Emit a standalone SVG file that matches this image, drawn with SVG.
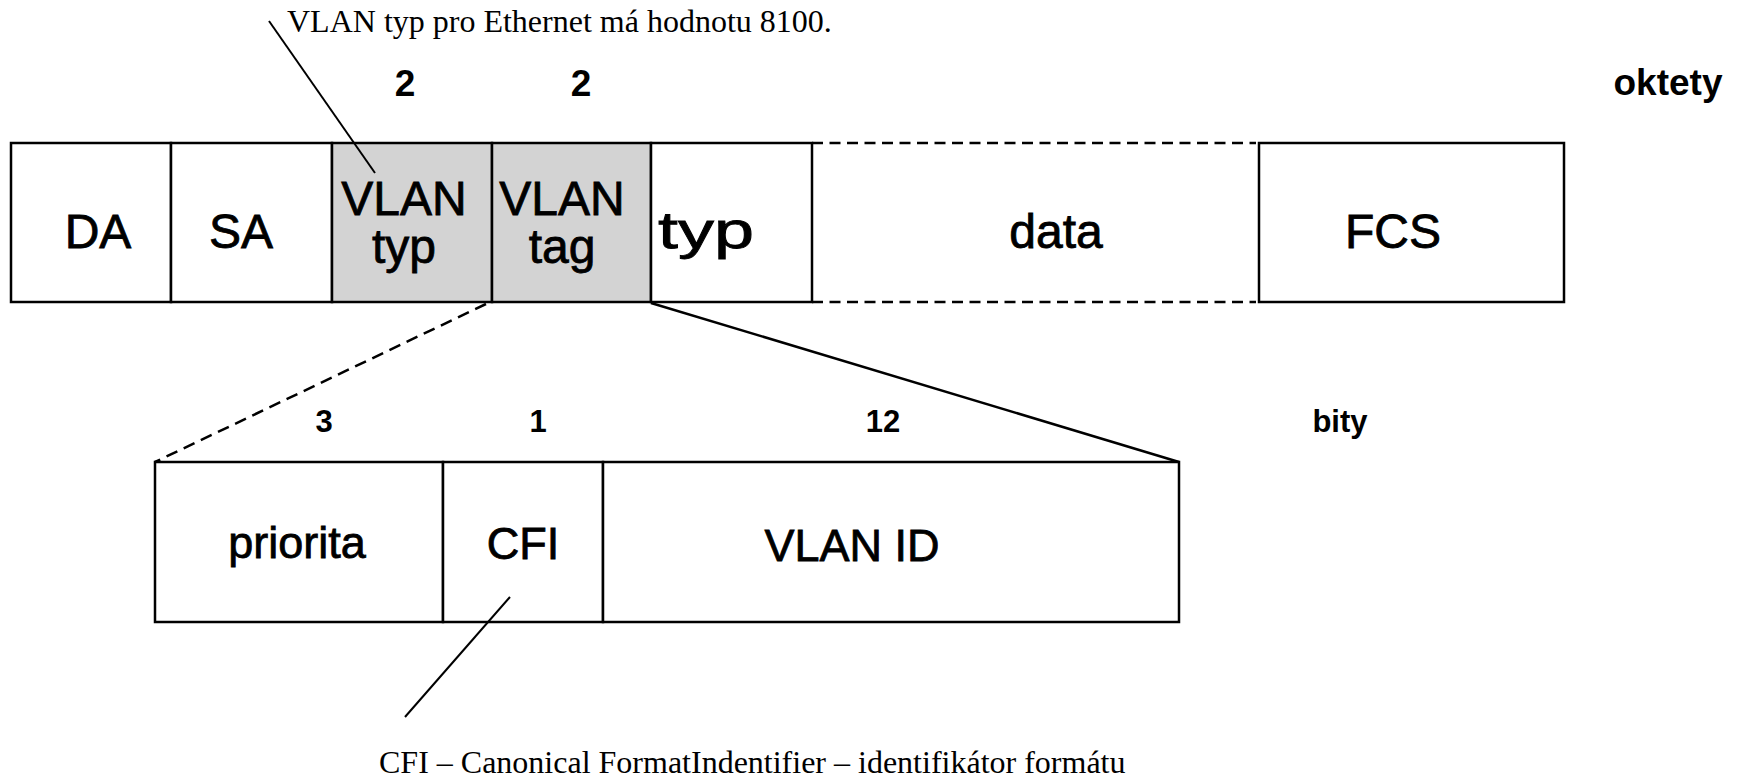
<svg xmlns="http://www.w3.org/2000/svg" width="1740" height="777" viewBox="0 0 1740 777">
<style>
.box{fill:#fff;stroke:#000;stroke-width:2.5}
.gray{fill:#d3d3d3;stroke:#000;stroke-width:2.5}
.edge{fill:none;stroke:#000;stroke-width:2.5}
.dash{fill:none;stroke:#000;stroke-width:2.5;stroke-dasharray:11 6.5}
.lead{fill:none;stroke:#000;stroke-width:2}
.big{font-family:"Liberation Sans",Arial,sans-serif;font-size:48px;text-anchor:middle;fill:#000;stroke:#000;stroke-width:0.8}
.mid{font-family:"Liberation Sans",Arial,sans-serif;font-size:45px;text-anchor:middle;fill:#000;stroke:#000;stroke-width:0.8}
.num{font-family:"Liberation Sans",Arial,sans-serif;font-size:37px;font-weight:bold;text-anchor:middle;fill:#000}
.sm{font-family:"Liberation Sans",Arial,sans-serif;font-size:31px;font-weight:bold;text-anchor:middle;fill:#000}
.note{font-family:"Liberation Serif","Times New Roman",serif;font-size:32px;fill:#000}
</style>
<rect width="1740" height="777" fill="#fff"/>
<g id="frame">
<g id="da"><rect class="box" x="11" y="143" width="160" height="159"/><text class="big" x="98" y="248">DA</text></g>
<g id="sa"><rect class="box" x="171" y="143" width="161" height="159"/><text class="big" x="241" y="248">SA</text></g>
<g id="vlantyp"><rect class="gray" x="332" y="143" width="160" height="159"/><text class="big" x="404" y="215">VLAN</text><text class="big" x="404" y="263">typ</text></g>
<g id="vlantag"><rect class="gray" x="492" y="143" width="159" height="159"/><text class="big" x="562" y="215">VLAN</text><text class="big" x="562" y="263">tag</text></g>
<g id="typ"><rect class="box" x="651" y="143" width="161" height="159"/><text class="big" x="706" y="248" style="font-size:52px" textLength="96" lengthAdjust="spacingAndGlyphs">typ</text></g>
<g id="data"><path class="dash" d="M812 143H1256M812 302H1256"/><text class="big" x="1056" y="248">data</text></g>
<g id="fcs"><rect class="box" x="1259" y="143" width="305" height="159"/><text class="big" x="1393" y="248">FCS</text></g>
</g>
<g id="tag">
<g id="priorita"><rect class="box" x="155" y="462" width="288" height="160"/><text class="mid" x="297" y="558">priorita</text></g>
<g id="cfi"><rect class="box" x="443" y="462" width="160" height="160"/><text class="mid" x="523" y="559">CFI</text></g>
<g id="vlanid"><rect class="box" x="603" y="462" width="576" height="160"/><text class="mid" x="852" y="561">VLAN ID</text></g>
</g>
<g id="connectors">
<line class="dash" x1="486" y1="304" x2="155" y2="462" style="stroke-dasharray:12 7"/>
<line class="edge" x1="651" y1="303" x2="1179" y2="462"/>
<line class="lead" x1="269" y1="21" x2="375" y2="173"/>
<line class="lead" x1="510" y1="597" x2="405" y2="717"/>
</g>
<g id="labels">
<text class="num" x="405" y="96">2</text>
<text class="num" x="581" y="96">2</text>
<text class="num" x="1668" y="95">oktety</text>
<text class="sm" x="324" y="432">3</text>
<text class="sm" x="538" y="432">1</text>
<text class="sm" x="883" y="432">12</text>
<text class="sm" x="1340" y="432">bity</text>
<text class="note" x="287" y="32">VLAN typ pro Ethernet má hodnotu 8100.</text>
<text class="note" x="379" y="773">CFI – Canonical FormatIndentifier – identifikátor formátu</text>
</g>
</svg>
